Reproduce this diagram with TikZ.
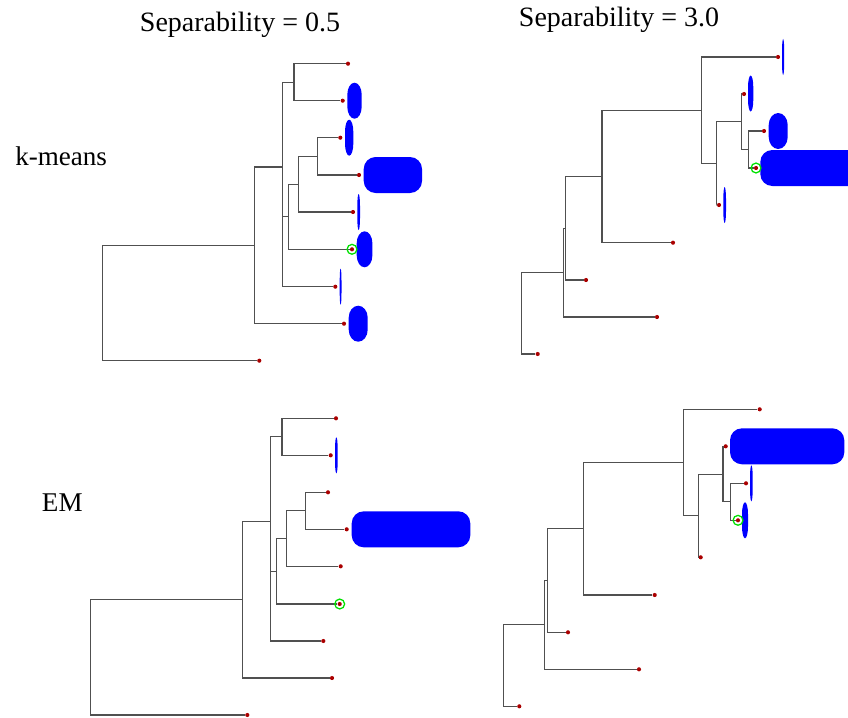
\documentclass[tikz,border=0pt]{standalone}
\usepackage{fontspec}
\setmainfont{Liberation Serif}
\newfontfamily\labelface{Liberation Serif}
\definecolor{branchgray}{RGB}{80,80,80}
\definecolor{dotred}{RGB}{170,0,0}
\definecolor{pillblue}{RGB}{0,0,255}
\definecolor{hitgreen}{RGB}{0,225,0}
\tikzset{
  branch/.style={draw=branchgray, line width=0.8pt},
  leafdot/.style={circle, fill=dotred, inner sep=0pt, minimum size=3.1pt},
  hit/.style={circle, draw=hitgreen, line width=0.95pt, inner sep=0pt, minimum size=7.4pt},
  pillfill/.style={fill=pillblue},
  ttl/.style={anchor=base, inner sep=0pt, font=\labelface\fontsize{21}{25}\selectfont},
  rowlabel/.style={anchor=base west, inner sep=0pt, font=\labelface\fontsize{20.3}{24}\selectfont},
}
% cluster glyph: left edge, vertical centre, width (height fixed at 36)
\newcommand\pill[3]{%
  \pgfmathsetmacro\pillrx{min(#3/2,12)}%
  \fill[pillfill] (#1+\pillrx,#2-18) -- (#1+#3-\pillrx,#2-18)
    arc[start angle=-90,end angle=0,x radius=\pillrx,y radius=12]
    -- (#1+#3,#2+6)
    arc[start angle=0,end angle=90,x radius=\pillrx,y radius=12]
    -- (#1+\pillrx,#2+18)
    arc[start angle=90,end angle=180,x radius=\pillrx,y radius=12]
    -- (#1,#2-6)
    arc[start angle=180,end angle=270,x radius=\pillrx,y radius=12]
    -- cycle;}
\begin{document}
\begin{tikzpicture}[x=0.75pt,y=-0.75pt]
\useasboundingbox (0,0) rectangle (848,717);

% headings
\node[ttl] (t1) at (240,31.7) {Separability = 0.5};
\node[ttl] (t2) at (619,26.5) {Separability = 3.0};
\node[rowlabel] (r1) at (15,165) {k-means};
\node[rowlabel] (r2) at (41.7,511.7) {EM};

% cluster glyphs
\pill{347.3}{100.7}{14.4}
\pill{345}{137.7}{8.3}
\pill{363.7}{175}{58.3}
\pill{357.3}{212}{2.7}
\pill{356.7}{249.3}{15.7}
\pill{339.7}{286.7}{1.8}
\pill{348.7}{323.7}{19}

\pill{782}{57}{2.2}
\pill{748}{93.5}{5.3}
\pill{768.7}{131}{19}
\pill{760.3}{168}{100}
\pill{723.3}{205}{2.7}

\pill{335}{455.3}{2.7}
\pill{351.7}{529.3}{118.6}

\pill{730}{446.3}{114.3}
\pill{750}{483.3}{2.7}
\pill{742}{520.3}{6}

% leaves
\foreach \n/\x/\y in {
  p1l1/348/63.7, p1l2/342.7/100.7, p1l3/340.3/137.7, p1l4/359/175, p1l5/353/212,
  p1l6/352/249.3, p1l7/335.3/286.7, p1l8/344/323.7, p1l9/259.3/360.7,
  p2l1/778/57, p2l2/744/94, p2l3/764/131, p2l4/756/168, p2l5/719/205,
  p2l6/673/242.7, p2l7/586/280, p2l8/657/317, p2l9/537.7/354,
  p3l1/336/418.3, p3l2/330.7/455.3, p3l3/328/492.3, p3l4/346.7/529.3, p3l5/340.7/566.3,
  p3l6/339.7/604, p3l7/323.3/641, p3l8/332/678, p3l9/247.3/715,
  p4l1/759.7/409.3, p4l2/725.7/446.3, p4l3/746/483.3, p4l4/738/520.3, p4l5/700.7/557.3,
  p4l6/654.7/595, p4l7/568/632.3, p4l8/639/669.3, p4l9/519.3/706.3}
  \node[leafdot] (\n) at (\x,\y) {};

% merge points
\foreach \n/\x/\y in {
  p1A/294/82.2, p1B/317.3/156.3, p1C/298.3/184.2, p1D/288.3/216.8,
  p1E2/282.3/251.75, p1E/282.3/167, p1F/254.3/245.35, p1R/102.7/303,
  p2a/748.3/149.5, p2b/741.3/121.75, p2c/716.7/163.4, p2d/701.3/110.2,
  p2e/602/176.45, p2f/565.3/228.2, p2g/563.3/272.6, p2r/521.7/313.3,
  p3A/282/436.8, p3B/305.3/510.8, p3C/286.7/538.55, p3D/276.7/571.3,
  p3E2/270.3/606.15, p3E/270.3/521.5, p3F/242.3/599.75, p3R/90.7/657.4,
  p4a/730.3/501.8, p4b/723/474.05, p4c/698.3/515.7, p4d/683.3/462.5,
  p4e/583.3/528.75, p4f/547.3/580.5, p4g/544.7/624.9, p4r/503.3/665.6}
  \coordinate (\n) at (\x,\y);

% dendrogram branches
\foreach \a/\b in {
  p1A/p1l1, p1A/p1l2, p1B/p1l3, p1B/p1l4, p1C/p1B, p1C/p1l5, p1D/p1C, p1D/p1l6,
  p1E2/p1D, p1E2/p1l7, p1E/p1A, p1E/p1E2, p1F/p1E, p1F/p1l8, p1R/p1F, p1R/p1l9,
  p2a/p2l3, p2a/p2l4, p2b/p2l2, p2b/p2a, p2c/p2b, p2c/p2l5, p2d/p2l1, p2d/p2c,
  p2e/p2d, p2e/p2l6, p2f/p2e, p2f/p2l7, p2g/p2f, p2g/p2l8, p2r/p2g, p2r/p2l9,
  p3A/p3l1, p3A/p3l2, p3B/p3l3, p3B/p3l4, p3C/p3B, p3C/p3l5, p3D/p3C, p3D/p3l6,
  p3E2/p3D, p3E2/p3l7, p3E/p3A, p3E/p3E2, p3F/p3E, p3F/p3l8, p3R/p3F, p3R/p3l9,
  p4a/p4l3, p4a/p4l4, p4b/p4l2, p4b/p4a, p4c/p4b, p4c/p4l5, p4d/p4l1, p4d/p4c,
  p4e/p4d, p4e/p4l6, p4f/p4e, p4f/p4l7, p4g/p4f, p4g/p4l8, p4r/p4g, p4r/p4l9}
  \draw[branch] (\a) |- (\b);

% highlighted leaves
\node[hit] (h1) at (p1l6) {};
\node[hit] (h2) at (p2l4) {};
\node[hit] (h3) at (p3l6) {};
\node[hit] (h4) at (p4l4) {};
\end{tikzpicture}
\end{document}
